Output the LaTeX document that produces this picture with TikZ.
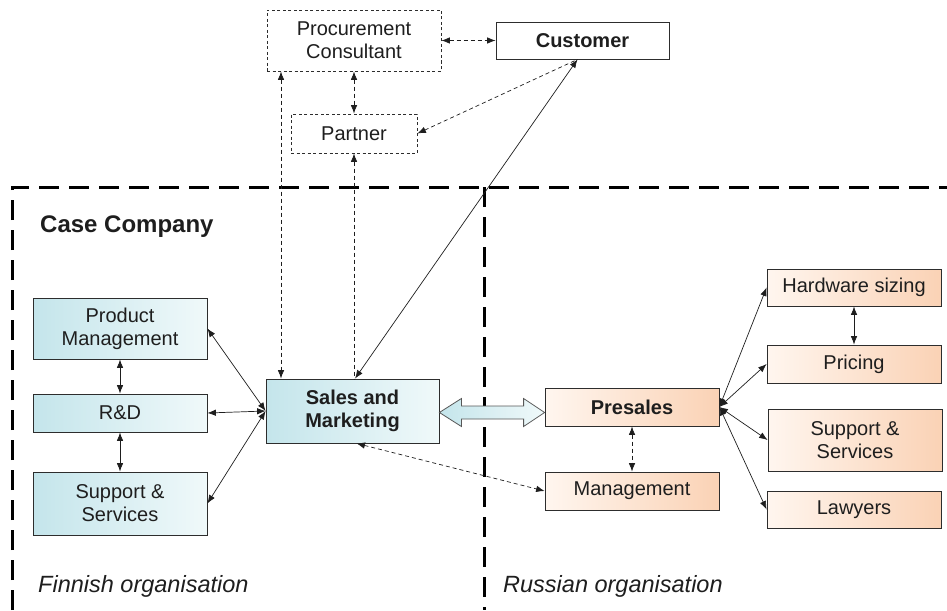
\documentclass[tikz,border=0pt]{standalone}
\usepackage{fontspec}
\setmainfont{Liberation Sans}
\usetikzlibrary{arrows.meta,calc}

\definecolor{cyanL}{RGB}{196,229,235}
\definecolor{cyanR}{RGB}{240,249,250}
\definecolor{peachL}{RGB}{255,246,239}
\definecolor{peachR}{RGB}{250,210,181}
\definecolor{edge}{RGB}{45,45,45}
\definecolor{ink}{RGB}{30,30,30}

\tikzset{
  box/.style={draw=edge, line width=0.8pt, minimum width=174pt, inner sep=0pt,
    align=center, text=ink, font=\fontsize{20}{23}\selectfont},
  boldbox/.style={font=\fontsize{20}{23}\selectfont\bfseries},
  finbox/.style={box, left color=cyanL, right color=cyanR},
  rusbox/.style={box, left color=peachL, right color=peachR},
  extbox/.style={box, dashed, dash pattern=on 3pt off 2.5pt, fill=white},
  link/.style={line width=0.7pt, draw=ink, {Latex[length=8.5pt,width=6.5pt]}-{Latex[length=8.5pt,width=6.5pt]}},
  dlink/.style={link, dash pattern=on 4pt off 3pt},
  frame/.style={line width=3pt, dash pattern=on 20pt off 10pt, draw=black},
  orglabel/.style={anchor=base west, inner sep=0pt, font=\fontsize{23.5}{27}\selectfont\itshape, text=ink},
}

\begin{document}
\begin{tikzpicture}[x=1pt, y=-1pt]
\useasboundingbox (0,0) rectangle (947,610);

% organisation frame
\draw[frame] (12,610) -- (12,187) -- (947,187);
\draw[frame] (484,187) -- (484,610);

\node[anchor=base west, inner sep=0pt, font=\fontsize{24}{28}\selectfont\bfseries, text=ink]
  (casecompany) at (40,232) {Case Company};
\node[orglabel] (finnish) at (38,592) {Finnish organisation};
\node[orglabel] (russian) at (503,592) {Russian organisation};

% outside parties
\node[extbox, minimum height=61pt] (proc) at (354,40.5) {Procurement\\Consultant};
\node[box, boldbox, minimum width=173pt, minimum height=37pt, fill=white] (cust) at (582.5,40.5) {Customer};
\node[extbox, minimum width=126pt, minimum height=39pt] (partner) at (354,133.5) {Partner};

% Finnish organisation
\node[finbox, minimum height=61pt] (pm) at (120,328.5) {Product\\Management};
\node[finbox, minimum height=38pt] (rd) at (120,413) {R\&D};
\node[finbox, minimum height=63pt] (ss) at (120,503.5) {Support \&\\Services};
\node[finbox, boldbox, minimum width=173pt, minimum height=64pt] (sales) at (352.5,411) {Sales and\\Marketing};

% Russian organisation
\node[rusbox, boldbox, minimum height=38pt] (presales) at (632,407) {Presales};
\node[rusbox, minimum height=38pt] (mgmt) at (632,491) {Management};
\node[rusbox, minimum height=37pt] (hw) at (854,287.5) {Hardware sizing};
\node[rusbox, minimum height=38pt] (pricing) at (854,364) {Pricing};
\node[rusbox, minimum height=62pt] (ss2) at (855,440) {Support \&\\Services};
\node[rusbox, minimum height=37pt] (lawyers) at (854,509.5) {Lawyers};

% links among outside parties
\draw[dlink] (proc.east) -- (cust.west);
\draw[dlink] (proc.south) -- (partner.north);
\draw[dlink, {Latex[length=8.5pt,width=6.5pt]}-] (partner.east) -- ([xshift=-5pt]cust.south);
\draw[dlink] ([xshift=-73pt]proc.south) -- ([xshift=-71.5pt]sales.north);
\draw[dlink, {Latex[length=8.5pt,width=6.5pt]}-] (partner.south) -- (partner.south |- sales.north);
\draw[link] ([xshift=-5pt]cust.south) -- ([xshift=2.5pt]sales.north);

% Finnish links
\draw[link] (pm.south) -- (rd.north);
\draw[link] (rd.south) -- (ss.north);
\draw[link] (pm.east) -- (sales.west);
\draw[link] (rd.east) -- (sales.west);
\draw[link] (ss.east) -- (sales.west);

% Russian links
\draw[dlink] (presales.south) -- (mgmt.north);
\draw[dlink] ([xshift=4pt]sales.south) -- (mgmt.west);
\draw[link] (hw.south) -- (pricing.north);
\draw[link] (presales.east) -- (hw.west);
\draw[link] (presales.east) -- (pricing.west);
\draw[link] (presales.east) -- (ss2.west);
\draw[link] (presales.east) -- (lawyers.west);

% broad two-way arrow between the two organisations
\coordinate (bl) at ([yshift=-1.5pt]sales.east);
\coordinate (br) at (presales.west |- bl);
\draw[draw=edge!80, line width=0.8pt, left color=cyanL, right color=cyanR]
  (bl) -- ($(bl)+(22,-14)$) -- ($(bl)+(22,-6.5)$) -- ($(br)+(-21,-6.5)$)
  -- ($(br)+(-21,-14)$) -- (br) -- ($(br)+(-21,14)$) -- ($(br)+(-21,6.5)$)
  -- ($(bl)+(22,6.5)$) -- ($(bl)+(22,14)$) -- cycle;
\end{tikzpicture}
\end{document}
